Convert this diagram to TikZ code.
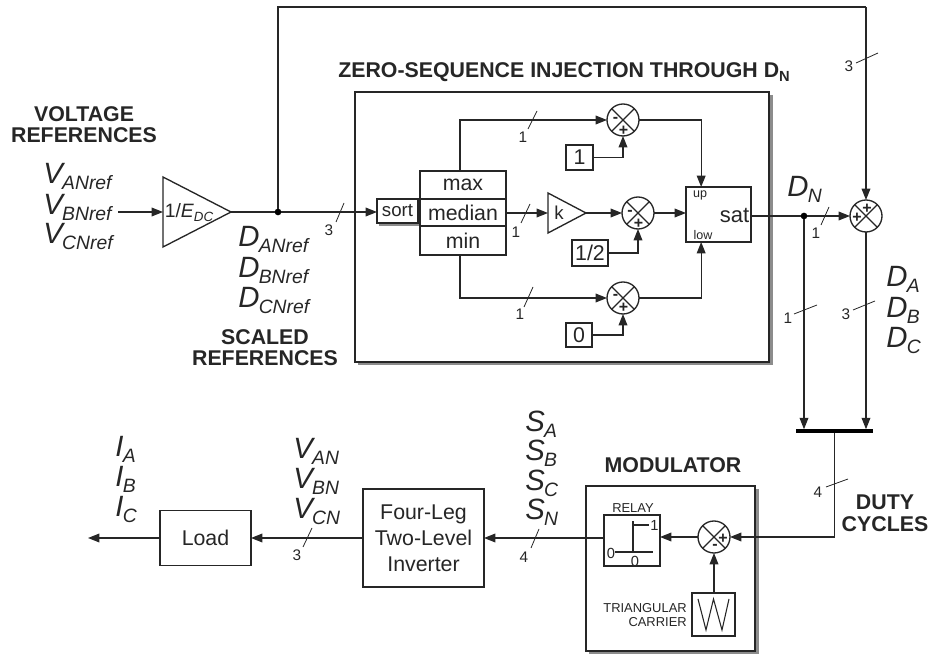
\documentclass[tikz,border=0pt]{standalone}
\usepackage{fontspec}
\setmainfont{Liberation Sans}
\usetikzlibrary{arrows.meta,shapes.geometric,calc}
\definecolor{ink}{HTML}{262626}
\newcommand\fsz[1]{\fontsize{#1}{#1}\selectfont}
\newcommand\VS[2]{{\fsz{22}\itshape #1\kern-.5pt\raisebox{-4pt}{\fsz{14.5}#2}}}
\tikzset{
  x=.75pt,y=-.75pt,
  wire/.style={draw=ink,line width=1pt},
  arr/.style={wire,-{Triangle[length=8.5pt,width=6.5pt]}},
  slash/.style={draw=ink,line width=.6pt},
  bx/.style 2 args={draw=ink,line width=1pt,fill=white,rectangle,inner sep=0pt,outer sep=0pt,text=ink,minimum width=#1*.75pt,minimum height=#2*.75pt},
  sumj/.style={draw=ink,line width=1pt,circle,fill=white,inner sep=0pt,outer sep=0pt,minimum size=24pt,
    path picture={\draw[ink,line width=1pt] (path picture bounding box.north west)--(path picture bounding box.south east)
      (path picture bounding box.north east)--(path picture bounding box.south west);}},
  sign/.style={inner sep=0pt,text=ink,font=\fsz{12}\bfseries},
  num/.style={inner sep=0pt,text=ink,font=\fsz{11.5}},
  lab/.style={inner sep=0pt,anchor=base west,text=ink},
  hd/.style={inner sep=0pt,anchor=base,text=ink,font=\fsz{16}\bfseries},
  small/.style={inner sep=0pt,text=ink,font=\fsz{9.7}},
  dot/.style={circle,fill=black,inner sep=0pt,minimum size=5pt,outer sep=0pt},
  tri/.style={isosceles triangle,isosceles triangle stretches,shape border rotate=0,draw=ink,line width=1pt,fill=white,inner sep=0pt,outer sep=0pt,anchor=lower side},
  shade/.style={fill=black!45,draw=none},
}
\begin{document}
\begin{tikzpicture}
\useasboundingbox (0,0) rectangle (929,655);
% ---- boxes with shadows
\fill[shade] (358,95) rectangle (772.5,365.5);
\node[bx={414}{270},line width=1.7pt] (main) at (562,227) {};
\fill[shade] (589,489) rectangle (758.5,654.5);
\node[bx={169}{165},line width=1.5pt] (mod) at (670.5,568.5) {};
% ---- sort block
\fill[shade] (379,201) rectangle (420,226);
\node[bx={41}{24},font=\fsz{14}] (sort) at (397.5,211) {sort};
\node[bx={86}{28},font=\fsz{16}] (mx) at (463,185) {max};
\node[bx={86}{27},font=\fsz{16}] (md) at (463,212.5) {median};
\node[bx={86}{29},font=\fsz{16}] (mn) at (463,240.5) {min};
% ---- constants
\node[bx={27}{25},font=\fsz{16}] (c1) at (579.5,157.5) {1};
\node[bx={36}{26},font=\fsz{16}] (c2) at (590,253) {1/2};
\node[bx={26}{24},font=\fsz{16}] (c0) at (579,335) {0};
% ---- summing junctions
\node[sumj] (s1) at (623,120) {};
\node[sumj] (s2) at (638,213) {};
\node[sumj] (s3) at (623,298) {};
\node[sumj] (s4) at (866,216) {};
\node[sumj] (s5) at (714,537) {};
\node[sign] (s1a) at (615.5,120) {-};
\node[sign] (s1b) at (623.5,130.5) {+};
\node[sign] (s2a) at (630,213) {-};
\node[sign] (s2b) at (638.5,224) {+};
\node[sign] (s3a) at (615.5,297) {-};
\node[sign] (s3b) at (623.5,308) {+};
\node[sign] (s4a) at (867,209) {+};
\node[sign] (s4b) at (857,218) {+};
\node[sign] (s5a) at (723,539) {+};
\node[sign] (s5b) at (715,547) {-};
% ---- triangles
\node[tri,minimum width=52.5pt,minimum height=51pt] (g1) at (163,212) {};
\node[inner sep=0pt,text=ink,font=\fsz{14.5},anchor=base] (g1t) at (189,218) {1/\textit{E}\raisebox{-2.5pt}{\fsz{10}\itshape DC}};
\node[tri,minimum width=30pt,minimum height=28.5pt] (gk) at (548,213) {};
\node[inner sep=0pt,text=ink,font=\fsz{14}] (gkt) at (559,213) {k};
% ---- sat
\node[bx={65}{55}] (sat) at (718.5,214.5) {};
\node[inner sep=0pt,text=ink,font=\fsz{16.5},anchor=east] (satt) at (749.5,216) {sat};
\node[inner sep=0pt,text=ink,font=\fsz{9.4}] (satu) at (700,195) {up};
\node[inner sep=0pt,text=ink,font=\fsz{9.4}] (satl) at (703,235) {low};
% ---- lower row
\node[bx={91}{55},font=\fsz{16}] (load) at (205.5,538) {Load};
\node[bx={121}{98},font=\fsz{16},align=center] (inv) at (423.5,538) {Four-Leg\\[3.5pt]Two-Level\\[3.5pt]Inverter};
\node[bx={56}{51}] (rl) at (632,540.5) {};
\node[bx={43}{43}] (car) at (713.5,614.5) {};
\node[bx={77}{3.5},fill=black,draw=none] (bar) at (834.5,431) {};
% ---- dots, free ends
\node[dot] (d1) at (278,212) {};
\node[dot] (d2) at (804,216) {};
\coordinate (inL) at (118,212);
\coordinate (topc) at (866,7);
\coordinate (loadout) at (88,538);
% ---- wires
\draw[arr] (inL) -- (g1.lower side);
\draw[wire] (g1.apex) -- (d1);
\draw[arr] (d1) -- (sort.west |- d1);
\draw[wire] (d1) |- (topc);
\draw[arr] (topc) -- (s4.north);
\draw[arr] ([xshift=-2.25pt]mx.north) |- (s1.west);
\draw[arr] ([xshift=-2.25pt]mn.south) |- (s3.west);
\draw[arr] (md.east |- s2) -- (gk.lower side);
\draw[arr] (gk.apex) -- (s2.west);
\draw[arr] (c1.east) -| (s1.south);
\draw[arr] (c2.east) -| (s2.south);
\draw[arr] (c0.east) -| (s3.south);
\draw[arr] (s1.east) -| ([xshift=-13pt]sat.north);
\draw[arr] (s3.east) -| ([xshift=-13pt]sat.south);
\draw[arr] (s2.east) -- (s2 -| sat.west);
\draw[wire] (sat.east |- d2) -- (d2);
\draw[arr] (d2) -- (s4.west);
\draw[arr] (d2) -- (d2 |- bar.north);
\draw[arr] (s4.south) -- (s4 |- bar.north);
\draw[arr] (bar.south) |- (s5.east);
\draw[arr] (s5.west) -- (s5 -| rl.east);
\draw[arr] (s5 |- car.north) -- (s5.south);
\draw[arr] (rl.west |- inv.east) -- (inv.east);
\draw[arr] (inv.west) -- (load.east);
\draw[arr] (load.west) -- (loadout);
% ---- relay glyph
\draw[ink,line width=.8pt] (615,552) -- (653,552) (633,552) -- (633,521);
\draw[ink,line width=1.6pt] (618,552) -- (633,552) -- (633,525) -- (649,525);
\node[inner sep=0pt,text=ink,font=\fsz{11}] (r1) at (654.5,525) {1};
\node[inner sep=0pt,text=ink,font=\fsz{11}] (r0a) at (611,553) {0};
\node[inner sep=0pt,text=ink,font=\fsz{11}] (r0b) at (635,561) {0};
\node[small] (rt) at (633,508) {RELAY};
% ---- carrier glyph
\draw[ink,line width=.8pt] (698,599) -- (706,630) -- (713.5,599) -- (722,630) -- (729,599);
\node[small,anchor=east] (ct1) at (687,608) {TRIANGULAR};
\node[small,anchor=east] (ct2) at (687,622) {CARRIER};
% ---- bus slashes
\draw[slash] (344,203) -- (336,222);
\node[num] (n1) at (329,230) {3};
\draw[slash] (537,111) -- (528,129);
\node[num] (n2) at (523,137) {1};
\draw[slash] (530,204) -- (521,223);
\node[num] (n3) at (516,232) {1};
\draw[slash] (533,287) -- (524,307);
\node[num] (n4) at (520,314) {1};
\draw[slash] (829,207) -- (821,225);
\node[num] (n5) at (816,233) {1};
\draw[slash] (817,305) -- (794,314);
\node[num] (n6) at (788,318) {1};
\draw[slash] (875,301) -- (853,310);
\node[num] (n7) at (846,314) {3};
\draw[slash] (878,53) -- (856,63);
\node[num] (n8) at (849,66) {3};
\draw[slash] (848,479) -- (826,487);
\node[num] (n9) at (818,492) {4};
\draw[slash] (312,528) -- (303,547);
\node[num] (n10) at (297,555) {3};
\draw[slash] (539,529) -- (531,548);
\node[num] (n11) at (524,557) {4};
% ---- headings
\node[hd] (h1) at (84,122) {VOLTAGE};
\node[hd] (h2) at (84,143) {REFERENCES};
\node[hd] (h3) at (265,345) {SCALED};
\node[hd] (h4) at (265,366) {REFERENCES};
\node[hd,anchor=base west] (h5) at (338,78) {ZERO-SEQUENCE INJECTION THROUGH D\raisebox{-2.5pt}{\fsz{11}N}};
\node[hd] (h6) at (673,473) {MODULATOR};
\node[hd] (h7) at (885,510) {DUTY};
\node[hd] (h8) at (885,532) {CYCLES};
% ---- signal names
\node[lab] (va) at (43,184) {\VS{V}{ANref}};
\node[lab] (vb) at (43,215) {\VS{V}{BNref}};
\node[lab] (vc) at (43,244) {\VS{V}{CNref}};
\node[lab] (da) at (238,247) {\VS{D}{ANref}};
\node[lab] (db) at (238,278) {\VS{D}{BNref}};
\node[lab] (dc) at (238,308) {\VS{D}{CNref}};
\node[lab] (dn) at (787,197) {\VS{D}{N}};
\node[lab] (dA) at (886,287) {\VS{D}{A}};
\node[lab] (dB) at (886,318) {\VS{D}{B}};
\node[lab] (dC) at (886,348) {\VS{D}{C}};
\node[lab] (sA) at (525,432) {\VS{S}{A}};
\node[lab] (sB) at (525,461) {\VS{S}{B}};
\node[lab] (sC) at (525,491) {\VS{S}{C}};
\node[lab] (sN) at (525,520) {\VS{S}{N}};
\node[lab] (vA) at (293,459) {\VS{V}{AN}};
\node[lab] (vB) at (293,489) {\VS{V}{BN}};
\node[lab] (vC) at (293,519) {\VS{V}{CN}};
\node[lab] (iA) at (115,457) {\VS{I}{A}};
\node[lab] (iB) at (115,487) {\VS{I}{B}};
\node[lab] (iC) at (115,517) {\VS{I}{C}};
\end{tikzpicture}
\end{document}
